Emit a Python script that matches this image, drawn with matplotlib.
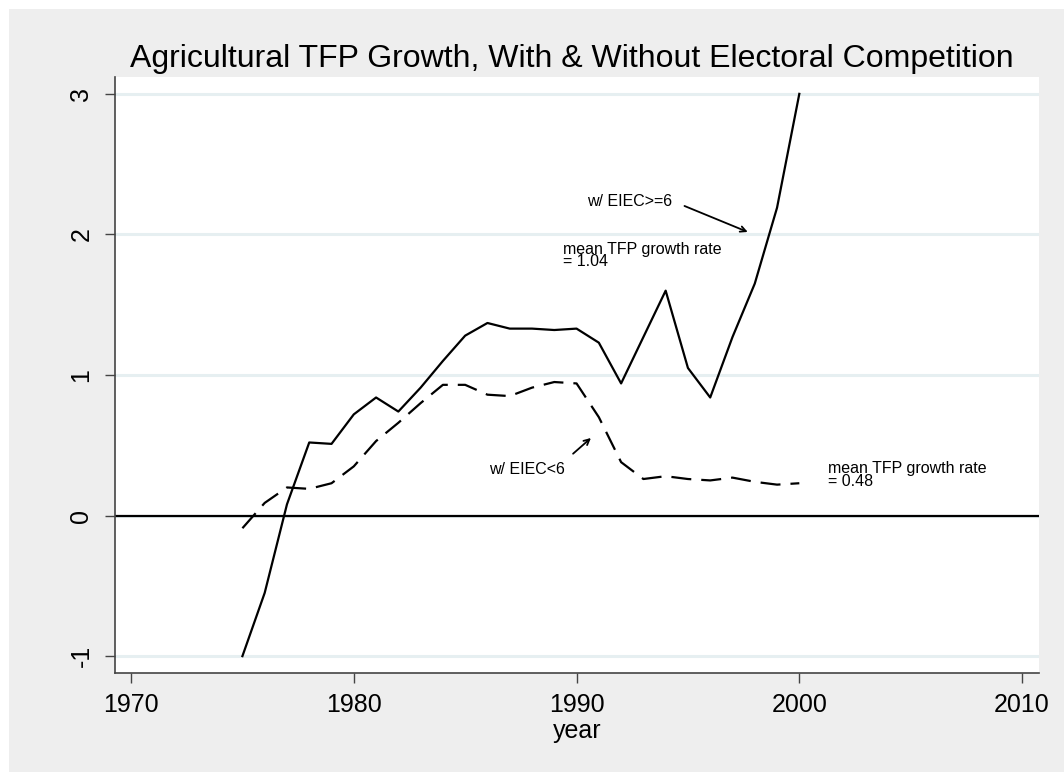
import numpy as np
import matplotlib
matplotlib.use('Agg')
import matplotlib.pyplot as plt
from matplotlib.patches import Rectangle

plt.rcParams['font.family'] = ['Liberation Sans', 'DejaVu Sans']

# ── data ──────────────────────────────────────────────────────────────────────
years = list(range(1975, 2001))
tfp_high = [-1.00, -0.55, 0.08, 0.52, 0.51, 0.72, 0.84, 0.74, 0.91, 1.10,
            1.28, 1.37, 1.33, 1.33, 1.32, 1.33, 1.23, 0.94, 1.27, 1.60,
            1.05, 0.84, 1.27, 1.65, 2.19, 3.00]
tfp_low = [-0.09, 0.09, 0.20, 0.19, 0.23, 0.35, 0.53, 0.66, 0.80, 0.93,
           0.93, 0.86, 0.85, 0.91, 0.95, 0.94, 0.70, 0.38, 0.26, 0.28,
           0.26, 0.25, 0.27, 0.24, 0.22, 0.23]

x_ticks = [1970, 1980, 1990, 2000, 2010]
y_ticks = [-1, 0, 1, 2, 3]

title = 'Agricultural TFP Growth, With & Without Electoral Competition'
label_high = 'w/ EIEC>=6'
label_low = 'w/ EIEC<6'
mean_high = 'mean TFP growth rate\n= 1.04'
mean_low = 'mean TFP growth rate\n= 0.48'

# ── figure ────────────────────────────────────────────────────────────────────
W, H = 1064, 772
bg = '#EEEEEE'
fig = plt.figure(figsize=(W / 100, H / 100), dpi=100)
fig.patch.set_facecolor(bg)
# thin white strips at top and left edge (as in the exported Stata graph)
fig.patches.append(Rectangle((0, 1 - 9 / H), 1, 9 / H, transform=fig.transFigure,
                             facecolor='white', edgecolor='none'))
fig.patches.append(Rectangle((0, 0), 9 / W, 1, transform=fig.transFigure,
                             facecolor='white', edgecolor='none'))

ax = fig.add_axes([115 / W, (H - 673) / H, (1039 - 115) / W, (673 - 77) / H])
ax.set_facecolor('white')

for y in y_ticks:
    ax.axhline(y, color='#E6EFF1', lw=2.2, zorder=0)
ax.axhline(0, color='black', lw=1.6, zorder=1)

ax.plot(years, tfp_high, color='black', lw=1.6, zorder=3)
ax.plot(years, tfp_low, color='black', lw=1.6, dashes=(9, 4.5), zorder=3)

ax.set_xlim(1969.28, 2010.76)
ax.set_ylim(-1.12, 3.12)
ax.set_xticks(x_ticks)
ax.set_yticks(y_ticks)
ax.set_yticklabels([str(v) for v in y_ticks], rotation=90, va='center')
ax.tick_params(axis='both', labelsize=18, length=7.5, width=1, color='#444444',
               labelcolor='black')
ax.tick_params(axis='x', pad=7)
ax.tick_params(axis='y', pad=8)

for side in ('top', 'right'):
    ax.spines[side].set_visible(False)
for side in ('left', 'bottom'):
    ax.spines[side].set_color('#444444')
    ax.spines[side].set_linewidth(1.2)

ax.set_xlabel('year', fontsize=18, labelpad=1)
fig.text(130 / W, 1 - 67 / H, title, ha='left', va='baseline', fontsize=23)

# annotations
ax.text(1990.47, 2.235, label_high, fontsize=11.5, ha='left', va='center')
ax.annotate('', xy=(1997.8, 2.01), xytext=(1994.73, 2.21),
            arrowprops=dict(arrowstyle='->', color='black', lw=1.3))
ax.text(1989.39, 1.85, mean_high, fontsize=11.5, ha='left', va='center',
        linespacing=0.8)

ax.text(1986.07, 0.327, label_low, fontsize=11.5, ha='left', va='center')
ax.annotate('', xy=(1990.74, 0.565), xytext=(1989.75, 0.427),
            arrowprops=dict(arrowstyle='->', color='black', lw=1.3))
ax.text(2001.28, 0.29, mean_low, fontsize=11.5, ha='left', va='center',
        linespacing=0.8)

fig.savefig('out.png', dpi=100, facecolor=fig.get_facecolor())
